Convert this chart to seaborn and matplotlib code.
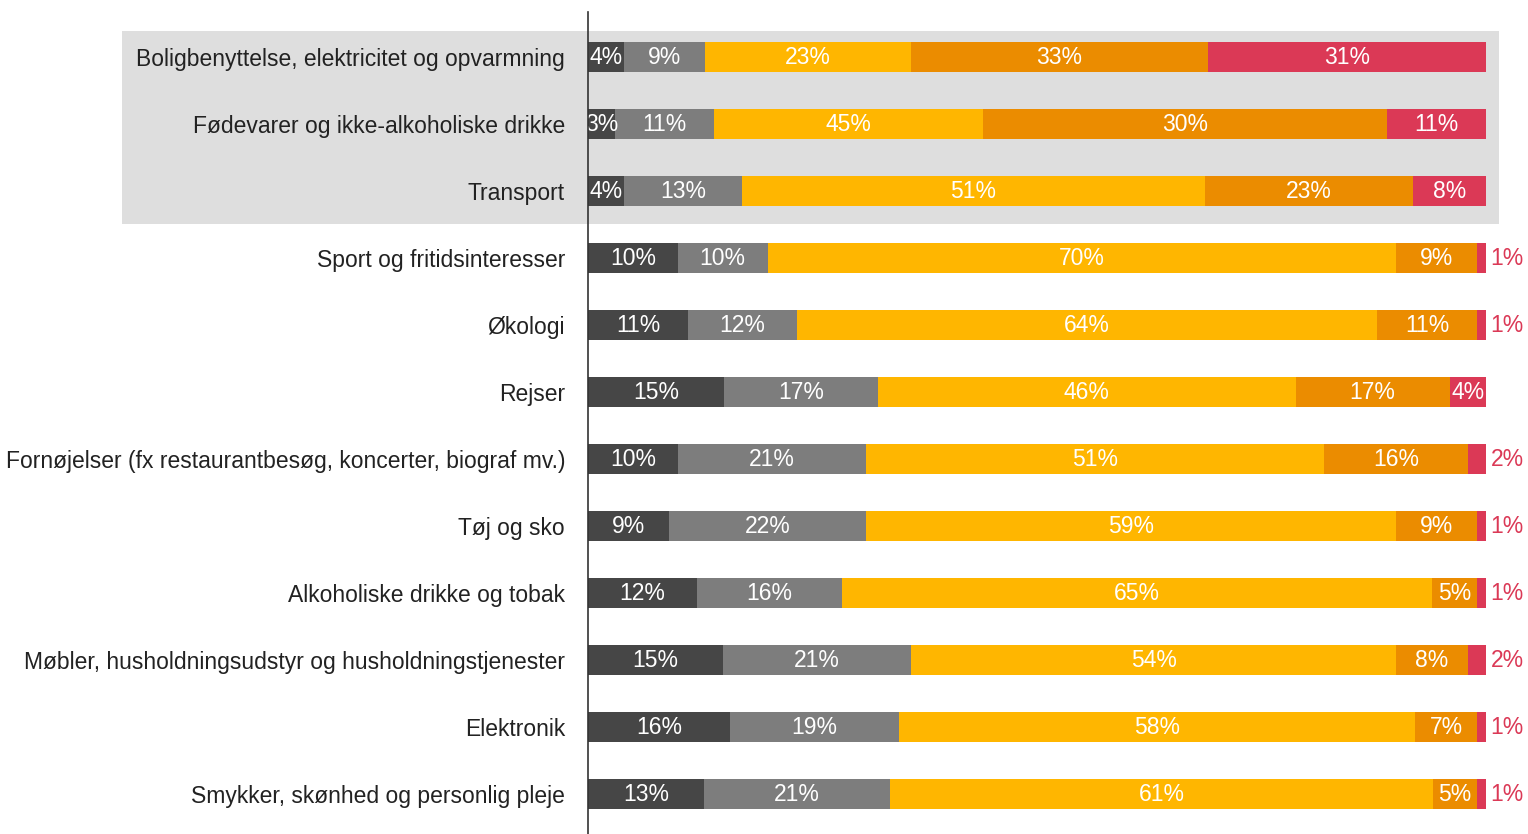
import numpy as np
import pandas as pd
import matplotlib
matplotlib.use('Agg')
import matplotlib.pyplot as plt
import seaborn as sns
from matplotlib.patches import Rectangle

# data
categories = [
    'Boligbenyttelse, elektricitet og opvarmning',
    'Fødevarer og ikke-alkoholiske drikke',
    'Transport',
    'Sport og fritidsinteresser',
    'Økologi',
    'Rejser',
    'Fornøjelser (fx restaurantbesøg, koncerter, biograf mv.)',
    'Tøj og sko',
    'Alkoholiske drikke og tobak',
    'Møbler, husholdningsudstyr og husholdningstjenester',
    'Elektronik',
    'Smykker, skønhed og personlig pleje',
]
seg1 = [4, 3, 4, 10, 11, 15, 10, 9, 12, 15, 16, 13]
seg2 = [9, 11, 13, 10, 12, 17, 21, 22, 16, 21, 19, 21]
seg3 = [23, 30, 51, 70, 64, 46, 51, 59, 65, 54, 58, 61]
seg4 = [33, 45, 23, 9, 11, 17, 16, 9, 5, 8, 7, 5]
seg5 = [31, 11, 8, 1, 1, 4, 2, 1, 1, 2, 1, 1]
# the source prints these two labels swapped relative to the bar widths
label_fix = {(1, 2): 45, (1, 3): 30}

colors = ['#464646', '#7d7d7d', '#ffb600', '#eb8c00', '#db3956']

df = pd.DataFrame({'cat': categories, 's1': seg1, 's2': seg2, 's3': seg3,
                   's4': seg4, 's5': seg5})
cols = ['s1', 's2', 's3', 's4', 's5']
shares = df[cols].div(df[cols].sum(axis=1), axis=0)
cum = shares.cumsum(axis=1)

sns.set_style('white')
plt.rcParams['font.family'] = ['Liberation Sans', 'DejaVu Sans']

fig = plt.figure(figsize=(15.28, 8.34), dpi=100)
ax = fig.add_axes([588 / 1528, 0, 940 / 1528, 822 / 834])
ax.patch.set_visible(False)

# stacked bars: draw cumulative totals from the back
for i in range(len(cols) - 1, -1, -1):
    sns.barplot(x=cum[cols[i]], y=df['cat'], orient='h', color=colors[i],
                width=0.46, saturation=1, linewidth=0, edgecolor='none',
                ax=ax, zorder=2)

# highlight band behind the first three rows
ax.add_patch(Rectangle((-0.519, -0.388), 1.5335, 2.878, facecolor='#dedede',
                       edgecolor='none', clip_on=False, zorder=0))

# value labels
fs = 16.5
for r in range(len(df)):
    left = 0
    for i, c in enumerate(cols):
        w = shares.loc[r, c]
        v = label_fix.get((r, i), df.loc[r, c])
        if i == 4 and v <= 2:
            ax.text(left + w + 0.005, r, f'{v}%', color=colors[4], fontsize=fs,
                    ha='left', va='center', zorder=3)
        else:
            ax.text(left + w / 2, r, f'{v}%', color='white', fontsize=fs,
                    ha='center', va='center', zorder=3)
        left += w

ax.set_xlim(0, 940 / 898)
ax.set_ylim(11.597, -0.672)
ax.set_xlabel('')
ax.set_ylabel('')
ax.set_xticks([])
ax.tick_params(axis='y', length=0, pad=16.5, labelsize=fs, labelcolor='#222222')
for s in ['top', 'right', 'bottom']:
    ax.spines[s].set_visible(False)
ax.spines['left'].set_color('#333333')
ax.spines['left'].set_linewidth(1.2)
ax.spines['left'].set_zorder(4)

plt.savefig('out.png', dpi=100)
